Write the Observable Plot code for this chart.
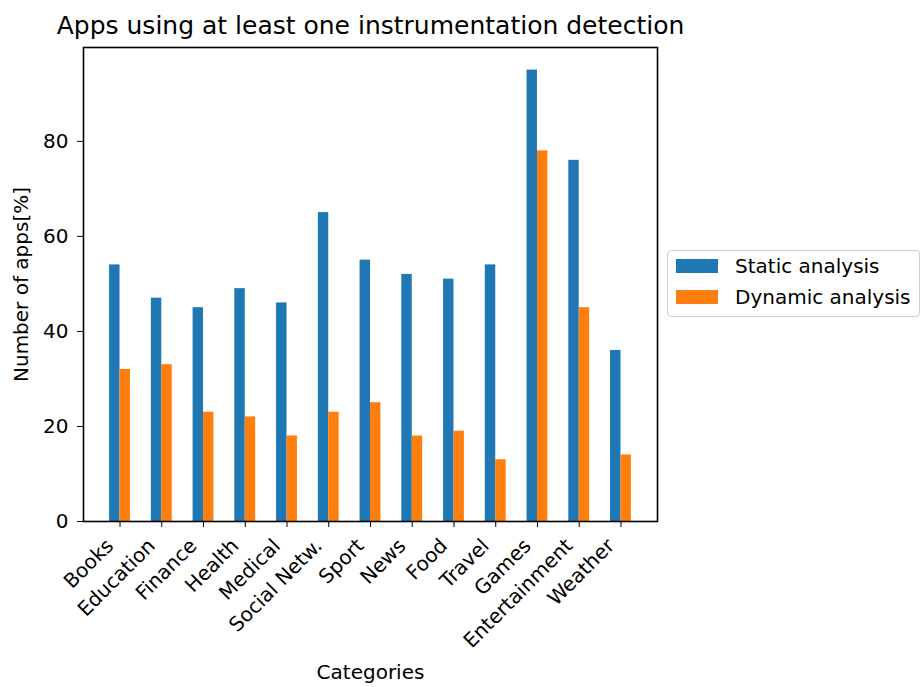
<!DOCTYPE html>
<html>
<head>
<meta charset="utf-8">
<script src="https://cdn.jsdelivr.net/npm/d3@7"></script>
<script src="https://cdn.jsdelivr.net/npm/@observablehq/plot@0.6"></script>
<style>
  html, body { margin: 0; padding: 0; background: #fff; }
  #wrap { position: relative; width: 923px; height: 687px; font-family: "DejaVu Sans", sans-serif; }
  .legend { position: absolute; left: 667px; top: 250px; width: 253px; height: 67px;
    border: 1.2px solid #d0d0d0; border-radius: 4px; background: #fff; box-sizing: border-box; }
  .item { position: absolute; left: 8px; display: flex; align-items: center; font-size: 20px; color: #000; }
  .sw { width: 42px; height: 14px; margin-right: 17px; }
</style>
</head>
<body>
<div id="wrap"></div>
<script>
const categories = ["Books", "Education", "Finance", "Health", "Medical", "Social Netw.", "Sport", "News", "Food", "Travel", "Games", "Entertainment", "Weather"];
const staticValues = [54, 47, 45, 49, 46, 65, 55, 52, 51, 54, 95, 76, 36];
const dynamicValues = [32, 33, 23, 22, 18, 23, 25, 18, 19, 13, 78, 45, 14];
const seriesNames = ["Static analysis", "Dynamic analysis"];
const seriesColors = ["#1f77b4", "#ff7f0e"];
const yTicks = [0, 20, 40, 60, 80];
const title = "Apps using at least one instrumentation detection";

const staticData = categories.map((c, i) => ({category: c, value: staticValues[i]}));
const dynamicData = categories.map((c, i) => ({category: c, value: dynamicValues[i]}));

const W = 923, H = 687;
const mL = 83, mR = 266, mT = 47, mB = 166;
const padInner = 0.5, padOuter = 0.625;
const step = (W - mL - mR) / (categories.length - padInner + 2 * padOuter);
const half = step * (1 - padInner) / 2;

const chart = Plot.plot({
  width: W, height: H,
  marginLeft: mL, marginRight: mR, marginTop: mT, marginBottom: mB,
  style: {fontFamily: "DejaVu Sans, sans-serif", fontSize: "20px", color: "#000", background: "#fff"},
  x: {domain: categories, paddingInner: padInner, paddingOuter: padOuter, round: false},
  y: {domain: [0, 99.75]},
  marks: [
    Plot.barY(staticData, {x: "category", y: "value", fill: seriesColors[0], insetRight: half}),
    Plot.barY(dynamicData, {x: "category", y: "value", fill: seriesColors[1], insetLeft: half}),
    Plot.frame({stroke: "#000", strokeWidth: 1.6}),
    Plot.axisY({ticks: yTicks, tickSize: 6, tickPadding: 9, tickFormat: d => String(d), fontSize: 20,
      label: "Number of apps[%]", labelAnchor: "center", labelOffset: 70, labelArrow: "none"}),
    Plot.axisX({tickSize: 6, text: null, label: null}),
    Plot.axisX({tickSize: 0, tickPadding: 9, dx: -10, dy: 12, tickRotate: -45, fontSize: 20,
      label: null}),
    Plot.axisX({tickSize: 0, text: null, label: "Categories", labelAnchor: "center", labelOffset: 157, labelArrow: "none"}),
    Plot.text([title], {frameAnchor: "top", dy: -31, fontSize: 25, fill: "#000"})
  ]
});

const wrap = document.getElementById("wrap");
wrap.appendChild(chart);

const legend = document.createElement("div");
legend.className = "legend";
seriesNames.forEach((name, i) => {
  const it = document.createElement("div");
  it.className = "item";
  it.style.top = (i === 0 ? 3 : 34) + "px";
  const sw = document.createElement("div");
  sw.className = "sw";
  sw.style.background = seriesColors[i];
  const t = document.createElement("span");
  t.textContent = name;
  it.appendChild(sw);
  it.appendChild(t);
  legend.appendChild(it);
});
wrap.appendChild(legend);
</script>
</body>
</html>
